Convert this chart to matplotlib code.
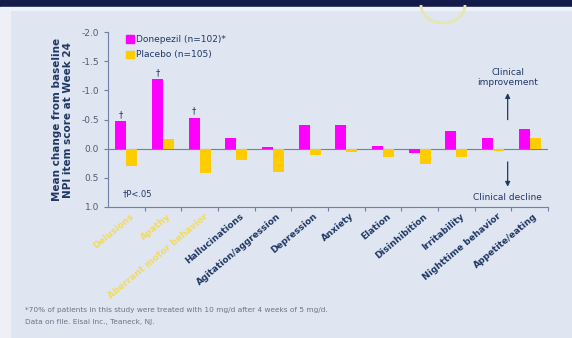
import numpy as np
import matplotlib.pyplot as plt
from matplotlib.patches import Rectangle, Arc

# NPI items and mean change from baseline (negative = improvement)
items = ["Delusions", "Apathy", "Aberrant motor behavior", "Hallucinations",
         "Agitation/aggression", "Depression", "Anxiety", "Elation",
         "Disinhibition", "Irritability", "Nighttime behavior", "Appetite/eating"]
donepezil = [-0.47, -1.19, -0.53, -0.19, -0.03, -0.41, -0.41, -0.04, 0.07, -0.30, -0.19, -0.33]
placebo = [0.30, -0.16, 0.41, 0.20, 0.40, 0.10, 0.05, 0.15, 0.27, 0.15, 0.04, -0.19]
significant = [True, True, True] + [False] * 9
highlight = [True, True, True] + [False] * 9
yticks = [-2.0, -1.5, -1.0, -0.5, 0.0, 0.5, 1.0]

bg = "#dfe5f1"
navy = "#1f3864"
magenta = "#ff00ff"
gold = "#ffcc00"

W, H = 572, 338
fig = plt.figure(figsize=(W / 100, H / 100), dpi=100, facecolor=bg)

# slide frame: dark band at top, pale strip on left, faint glow arc
fig.patches.append(Rectangle((0, 1 - 7 / H), 1, 7 / H, transform=fig.transFigure,
                             color="#141a4a", zorder=0))
fig.patches.append(Rectangle((0, 1 - 10 / H), 1, 3 / H, transform=fig.transFigure,
                             color="#eef1f8", zorder=0))
fig.patches.append(Rectangle((0, 0), 10 / W, 1 - 10 / H, transform=fig.transFigure,
                             color="#eef0f6", zorder=0))
fig.patches.append(Arc((443 / W, 1 - 5 / H), 44 / W, 36 / H, theta1=180, theta2=360,
                       transform=fig.transFigure, color="#e8e6b0", lw=2, zorder=0))

ax = fig.add_axes([108 / W, 1 - 207 / H, 440 / W, 175 / H])
ax.set_facecolor(bg)

x = np.arange(len(items))
w = 0.3
ax.bar(x - w / 2, donepezil, w, color=magenta, zorder=3)
ax.bar(x + w / 2, placebo, w, color=gold, zorder=3)

for i, s in enumerate(significant):
    if s:
        ax.text(x[i] - w / 2, donepezil[i] - 0.04, "†", ha="center", va="bottom",
                fontsize=6, color=navy)

ax.set_xlim(-0.5, len(items) - 0.5)
ax.set_ylim(1.0, -2.0)
ax.set_yticks(yticks)
ax.set_yticklabels([f"{v:.1f}" for v in yticks], fontsize=6.5, color="#555a70")
ax.axhline(0, color="#7080a8", lw=0.8, zorder=2)

for sp in ["top", "right"]:
    ax.spines[sp].set_visible(False)
for sp in ["left", "bottom"]:
    ax.spines[sp].set_color("#7080a8")
    ax.spines[sp].set_linewidth(0.8)

ax.set_xticks(x + 0.5)
ax.set_xticklabels([])
ax.tick_params(axis="x", length=3, color="#7080a8", direction="out")
ax.tick_params(axis="y", length=3, color="#7080a8")

for i, lab in enumerate(items):
    col = "#f2dc5a" if highlight[i] else navy
    ax.text(x[i] + 0.1, 1.08, lab, rotation=40, ha="right", va="top",
            rotation_mode="anchor", fontsize=6.5, color=col,
            fontweight="bold", clip_on=False)

ax.set_ylabel("Mean change from baseline\nNPI item score at Week 24", fontsize=7.5,
              fontweight="bold", color=navy, labelpad=6, linespacing=1.1)

# legend
ax.add_patch(Rectangle((0.0, -1.95), 0.2, 0.13, color=magenta, clip_on=False))
ax.text(0.25, -1.88, "Donepezil (n=102)*", fontsize=6.5, color=navy, va="center")
ax.add_patch(Rectangle((0.0, -1.68), 0.2, 0.13, color=gold, clip_on=False))
ax.text(0.25, -1.61, "Placebo (n=105)", fontsize=6.5, color=navy, va="center")

ax.text(-0.1, 0.77, "†P<.05", fontsize=6, color=navy, va="center")

# clinical direction arrows
xa = 10.4
ax.annotate("", xy=(xa, -1.0), xytext=(xa, -0.45),
            arrowprops=dict(arrowstyle="-|>", color=navy, lw=0.9, mutation_scale=7))
ax.text(xa, -1.05, "Clinical\nimprovement", ha="center", va="bottom",
        fontsize=6.5, color=navy, linespacing=1.2)
ax.annotate("", xy=(xa, 0.7), xytext=(xa, 0.18),
            arrowprops=dict(arrowstyle="-|>", color=navy, lw=0.9, mutation_scale=7))
ax.text(xa, 0.83, "Clinical decline", ha="center", va="center",
        fontsize=6.5, color=navy)

fig.text(25 / W, 1 - 310 / H,
         "*70% of patients in this study were treated with 10 mg/d after 4 weeks of 5 mg/d.",
         fontsize=5.3, color="#707488", va="center")
fig.text(25 / W, 1 - 322 / H, "Data on file. Eisai Inc., Teaneck, NJ.",
         fontsize=5.3, color="#707488", va="center")

fig.savefig("out.png", dpi=100, facecolor=bg)
